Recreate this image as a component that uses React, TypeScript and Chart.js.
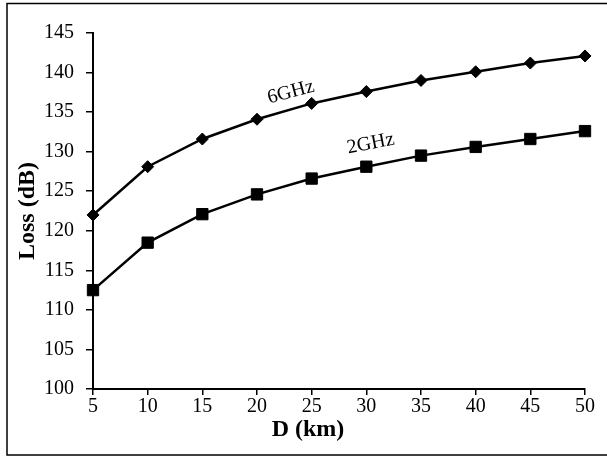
import React, { useEffect, useRef } from "react";
import { Chart, registerables } from "chart.js";

Chart.register(...registerables);

const distances = ["5", "10", "15", "20", "25", "30", "35", "40", "45", "50"];
const loss6GHz = [122, 128.1, 131.6, 134.1, 136.1, 137.6, 139, 140.1, 141.2, 142.1];
const loss2GHz = [112.5, 118.5, 122.1, 124.6, 126.6, 128.1, 129.5, 130.6, 131.6, 132.6];
const seriesNames = ["6GHz", "2GHz"];
// label anchors in data units: [category index, loss value, rotation deg]
const labelAnchors = [
  [3.62, 137.5, -15],
  [5.08, 131.0, -11],
];
const xTitle = "D (km)";
const yTitle = "Loss (dB)";
const yMin = 100;
const yMax = 145;
const yStep = 5;

const FONT = "'Liberation Serif', 'Times New Roman', serif";

const decorPlugin = {
  id: "decor",
  beforeDraw(chart: any) {
    const ctx = chart.ctx;
    ctx.save();
    ctx.fillStyle = "#ffffff";
    ctx.fillRect(0, 0, chart.width, chart.height);
    ctx.strokeStyle = "#000000";
    ctx.lineWidth = 1.5;
    ctx.strokeRect(7, 3.5, chart.width + 20, 451.5);
    ctx.restore();
  },
  afterDraw(chart: any) {
    const ctx = chart.ctx;
    const xs = chart.scales.x;
    const ys = chart.scales.y;
    ctx.save();
    ctx.fillStyle = "#000000";
    ctx.textAlign = "center";
    ctx.textBaseline = "middle";
    ctx.font = `20px ${FONT}`;
    labelAnchors.forEach((a, i) => {
      const px = xs.getPixelForValue(a[0]);
      const py = ys.getPixelForValue(a[1]);
      ctx.save();
      ctx.translate(px, py);
      ctx.rotate((a[2] * Math.PI) / 180);
      ctx.fillText(seriesNames[i], 0, 0);
      ctx.restore();
    });
    ctx.font = `bold 24px ${FONT}`;
    ctx.fillText(xTitle, 308, 430);
    ctx.restore();
  },
};

export default function App() {
  const ref = useRef<HTMLCanvasElement>(null);
  useEffect(() => {
    if (!ref.current) return;
    const chart = new Chart(ref.current, {
      type: "line",
      data: {
        labels: distances,
        datasets: [
          {
            label: seriesNames[0],
            data: loss6GHz,
            borderColor: "#000",
            backgroundColor: "#000",
            borderWidth: 2.5,
            pointStyle: "rectRot",
            pointRadius: 6,
            pointBorderWidth: 1,
            tension: 0,
          },
          {
            label: seriesNames[1],
            data: loss2GHz,
            borderColor: "#000",
            backgroundColor: "#000",
            borderWidth: 2.5,
            pointStyle: "rect",
            pointRadius: 8,
            pointBorderWidth: 1,
            tension: 0,
          },
        ],
      },
      options: {
        animation: false,
        responsive: false,
        devicePixelRatio: 1,
        layout: { padding: { top: 33, right: 22, left: 0, bottom: 0 } },
        plugins: { legend: { display: false }, tooltip: { enabled: false } },
        scales: {
          x: {
            offset: false,
            grid: { display: true, drawOnChartArea: false, drawTicks: true, tickLength: 6, color: "#000", lineWidth: 1.5 },
            border: { display: true, color: "#000", width: 2 },
            ticks: { color: "#000", font: { family: FONT, size: 20 }, padding: 0, maxRotation: 0, autoSkip: false },
            afterFit(scale: any) {
              scale.height = 70;
            },
          },
          y: {
            min: yMin,
            max: yMax,
            grid: { display: true, drawOnChartArea: false, drawTicks: true, tickLength: 7, color: "#000", lineWidth: 1.5 },
            border: { display: true, color: "#000", width: 2 },
            ticks: { stepSize: yStep, color: "#000", font: { family: FONT, size: 20 }, padding: 12 },
            title: {
              display: true,
              text: yTitle,
              color: "#000",
              font: { family: FONT, size: 24, weight: "bold" },
              padding: { top: 13, bottom: 0 },
            },
            afterFit(scale: any) {
              scale.width = 93;
            },
          },
        },
      },
      plugins: [decorPlugin],
    });
    return () => chart.destroy();
  }, []);
  return (
    <div style={{ position: "fixed", left: 0, top: 0, width: 607, height: 459 }}>
      <canvas ref={ref} width={607} height={459} style={{ display: "block", width: 607, height: 459 }} />
    </div>
  );
}
